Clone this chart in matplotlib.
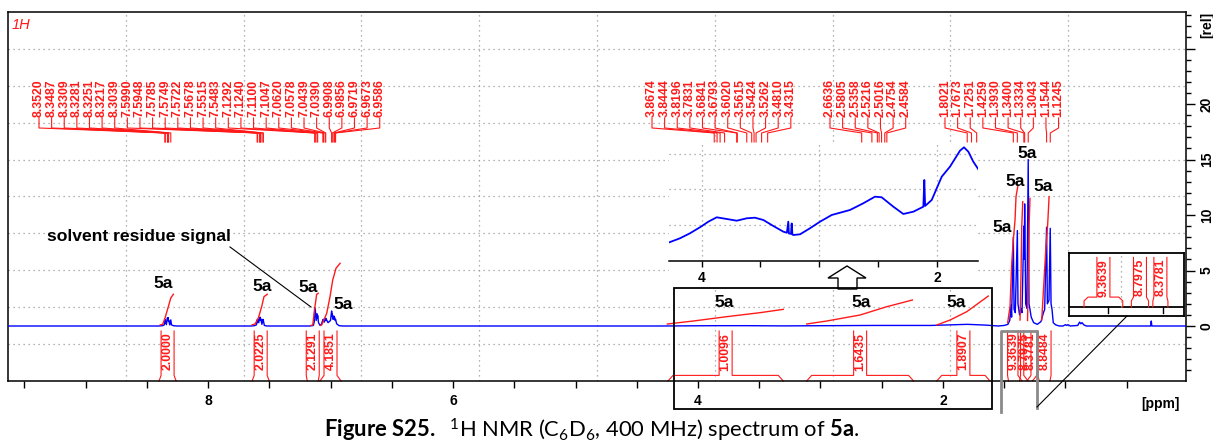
import numpy as np
import matplotlib
matplotlib.use("Agg")
import matplotlib.pyplot as plt
from matplotlib.patches import Rectangle, Polygon
from matplotlib.lines import Line2D
from matplotlib.ticker import MultipleLocator

plt.rcParams['font.family'] = ['Liberation Sans', 'DejaVu Sans']
plt.rcParams['mathtext.fontset'] = 'custom'
plt.rcParams['mathtext.rm'] = 'Lato'
plt.rcParams['mathtext.bf'] = 'Lato:bold'
plt.rcParams['mathtext.it'] = 'Lato:italic'

# ---------------- data ----------------
spec_ppm = [9.63, 8.40, 8.37, 8.357, 8.352, 8.350, 8.3487, 8.340, 8.3309, 8.3295, 8.3281, 8.3266,
            8.3251, 8.3235, 8.3217, 8.312, 8.3039, 8.298, 8.28, 8.25,
            7.65, 7.62, 7.605, 7.5990, 7.597, 7.5948, 7.586, 7.5785, 7.5767, 7.5749, 7.5735, 7.5722,
            7.570, 7.5678, 7.560, 7.5515, 7.550, 7.5483, 7.54, 7.52,
            7.17, 7.14, 7.132, 7.1292, 7.1266, 7.1240, 7.117, 7.1100, 7.107, 7.1047, 7.098, 7.085,
            7.075, 7.0620, 7.060, 7.0578, 7.050, 7.0439, 7.0415, 7.0390, 7.02, 7.00, 6.9908, 6.988,
            6.9856, 6.979, 6.9719, 6.9695, 6.9673, 6.962, 6.9586, 6.95, 6.93, 6.90,
            4.30, 3.85, 3.60, 3.30, 2.55, 2.10, 1.80, 1.65,
            1.55, 1.50, 1.47, 1.455, 1.445, 1.440, 1.4259, 1.420, 1.410, 1.3930, 1.388, 1.375, 1.365,
            1.355, 1.3400, 1.337, 1.3334, 1.325, 1.315, 1.3043, 1.298, 1.290, 1.280, 1.260, 1.230,
            1.200, 1.180, 1.170, 1.1544, 1.148, 1.135, 1.1245, 1.118, 1.110, 1.100, 1.080, 1.050,
            1.020, 1.000, 0.990, 0.980, 0.960, 0.900, 0.885, 0.875, 0.865, 0.850, 0.830,
            0.305, 0.300, 0.295, 0.016]
spec_int = [0, 0, 0.03, 0.1, 0.6, 0.25, 0.55, 0.12, 0.75, 0.5, 0.7, 0.5,
            0.75, 0.45, 0.55, 0.1, 0.55, 0.1, 0.02, 0,
            0, 0.03, 0.1, 0.55, 0.3, 0.6, 0.3, 0.75, 0.55, 0.8, 0.6, 0.75,
            0.5, 0.6, 0.15, 0.6, 0.35, 0.5, 0.05, 0,
            0, 0.05, 0.4, 1.65, 0.9, 1.45, 0.5, 1.1, 0.7, 0.95, 0.3, 0.05,
            0.15, 0.55, 0.4, 0.6, 0.35, 0.65, 0.5, 0.7, 0.3, 0.5, 1.35, 0.9,
            1.1, 0.6, 0.9, 0.65, 0.8, 0.5, 0.6, 0.2, 0.03, 0,
            0, 0.03, 0.03, 0.01, 0.05, 0.05, 0.15, 0.08,
            0, 0.05, 0.15, 0.5, 1.9, 0.8, 8.0, 1.5, 1.2, 8.6, 2.0, 1.0, 1.6,
            1.2, 9.0, 6.0, 11.0, 2.0, 1.6, 15.0, 2.0, 1.5, 0.8, 0.3, 0.15,
            0.4, 1.2, 1.5, 8.9, 2.0, 2.3, 8.8, 2.0, 1.5, 0.3, 0.1, 0,
            0, 0.12, 0.05, 0.12, 0, 0.05, 0.35, 0.2, 0.3, 0.1, 0,
            0, 0.45, 0, 0]

# expanded region (upper inset)
inset_ppm = [4.273, 4.183, 4.098, 4.013, 3.942, 3.871, 3.786, 3.701, 3.616, 3.546, 3.475, 3.390,
             3.305, 3.275, 3.263, 3.258, 3.240, 3.234, 3.228, 3.220, 3.163, 3.079, 2.994, 2.894,
             2.739, 2.626, 2.527, 2.470, 2.371, 2.286, 2.201, 2.116, 2.108, 2.101, 2.045, 1.960,
             1.890, 1.805, 1.771, 1.734, 1.692, 1.649]
inset_int = [0.523, 0.635, 0.775, 0.943, 1.099, 1.222, 1.175, 1.127, 1.194, 1.211, 1.147, 0.979,
             0.820, 0.790, 1.10, 0.770, 0.760, 1.05, 0.740, 0.727, 0.747, 0.915, 1.099, 1.287,
             1.427, 1.614, 1.799, 1.782, 1.519, 1.315, 1.379, 1.519, 2.266, 1.540, 1.706, 2.358,
             2.638, 3.085, 3.180, 3.057, 2.778, 2.565]

peaks_arom = [8.3520, 8.3487, 8.3309, 8.3281, 8.3251, 8.3217, 8.3039, 7.5990, 7.5948, 7.5785,
              7.5749, 7.5722, 7.5678, 7.5515, 7.5483, 7.1292, 7.1240, 7.1100, 7.1047, 7.0620,
              7.0578, 7.0439, 7.0390, 6.9908, 6.9856, 6.9719, 6.9673, 6.9586]
peaks_och = [3.8674, 3.8444, 3.8196, 3.7831, 3.6841, 3.6793, 3.6020, 3.5615, 3.5424, 3.5262,
             3.4810, 3.4315]
peaks_ch2 = [2.6636, 2.5805, 2.5358, 2.5216, 2.5016, 2.4754, 2.4584]
peaks_alk = [1.8021, 1.7673, 1.7251, 1.4259, 1.3930, 1.3400, 1.3334, 1.3043, 1.1544, 1.1245]

integral_labels = ["2.0000", "2.0225", "2.1291", "4.1851", "1.0096", "1.6435", "1.8907",
                   "9.3639", "8.7975", "8.3781", "8.8484"]
integral_start = [8.40, 7.64, 7.19, 7.086, 4.245, 3.113, 2.051, 1.465, 1.355, 1.305, 1.215]
integral_end = [8.26, 7.50, 7.10, 6.914, 3.304, 2.240, 1.616, 1.375, 1.315, 1.270, 1.127]

ic_2_0000_ppm = [8.39, 8.37, 8.351, 8.324, 8.304, 8.283]
ic_2_0000_val = [0.1, 0.15, 0.72, 1.74, 2.52, 2.86]
ic_2_0225_ppm = [7.64, 7.616, 7.589, 7.562, 7.543, 7.516]
ic_2_0225_val = [0.1, 0.18, 0.72, 1.74, 2.64, 2.86]
ic_2_1291_ppm = [7.16, 7.145, 7.127, 7.113, 7.10]
ic_2_1291_val = [0.05, 0.09, 1.74, 2.86, 2.95]
ic_4_1851_ppm = [7.08, 7.072, 7.031, 7.004, 6.982, 6.955, 6.922]
ic_4_1851_val = [0.05, 0.09, 1.14, 2.64, 4.14, 5.20, 5.65]
ic_1_0096_ppm = [4.25, 4.038, 3.766, 3.494, 3.304]
ic_1_0096_val = [0.18, 0.45, 0.84, 1.2, 1.5]
ic_1_6435_ppm = [3.113, 2.949, 2.677, 2.459, 2.25]
ic_1_6435_val = [0.18, 0.45, 0.99, 1.74, 2.34]
ic_1_8907_ppm = [2.051, 1.942, 1.806, 1.630]
ic_1_8907_val = [0.09, 0.54, 1.29, 2.70]
ic_9_3639_ppm = [1.472, 1.453, 1.439, 1.426, 1.412, 1.404, 1.390]
ic_9_3639_val = [0.3, 1.74, 5.65, 7.75, 9.55, 11.65, 12.55]
ic_8_7975_ppm = [1.371, 1.363, 1.357, 1.349]
ic_8_7975_val = [0.54, 4.8, 8.95, 11.2]
ic_8_3781_ppm = [1.31, 1.303, 1.297, 1.29]
ic_8_3781_val = [0.5, 4.5, 9.0, 11.5]
ic_8_8484_ppm = [1.194, 1.172, 1.161, 1.145, 1.134]
ic_8_8484_val = [0.54, 4.75, 6.85, 9.25, 11.65]

# compound labels (ppm, rel)
label_5a_ppm = [8.367, 7.56, 7.186, 6.90, 1.52, 1.41, 1.317, 1.18, 3.79, 2.67, 1.89]
label_5a_rel = [3.87, 3.6, 3.49, 1.9, 8.9, 13.0, 15.5, 12.55, 2.1, 2.16, 2.16]

x_tick_vals = list(np.arange(0.5, 9.51, 0.5))
y_tick_vals = [0, 5, 10, 15, 20, 25]
y_tick_labels = ['0', '5', '10', '15', '20', '']

# ---------------- layout ----------------
W, H = 1213, 444
XL, XR = 9.6327, 0.0163
YB, YT = -4.955, 28.29
RED = '#ff1a1a'
BLUE = '#0000ff'
GRID = '#9a9a9a'

fig = plt.figure(figsize=(W / 100, H / 100), dpi=100)
ax = fig.add_axes([8 / W, 1 - 381 / H, 1178 / W, 369 / H])
ax.set_xlim(XL, XR)
ax.set_ylim(YB, YT)


def px2ppm(px):
    return XL + (px - 8) * (XR - XL) / 1178.0


def fx(x):
    return x / W


def fy(y):
    return 1 - y / H


# grid in 10 divisions
for i in range(1, 10):
    ax.plot([i / 10] * 2, [0, 1], transform=ax.transAxes, color=GRID, lw=0.9,
            ls=(0, (1, 3)), zorder=0)
    ax.plot([0, 1], [i / 10] * 2, transform=ax.transAxes, color=GRID, lw=0.9,
            ls=(0, (1, 3)), zorder=0)

ax.plot(spec_ppm, spec_int, color=BLUE, lw=1.0, zorder=3)

# integral curves
for xs, ys in [(ic_2_0000_ppm, ic_2_0000_val), (ic_2_0225_ppm, ic_2_0225_val),
               (ic_2_1291_ppm, ic_2_1291_val), (ic_4_1851_ppm, ic_4_1851_val),
               (ic_1_0096_ppm, ic_1_0096_val), (ic_1_6435_ppm, ic_1_6435_val),
               (ic_1_8907_ppm, ic_1_8907_val), (ic_9_3639_ppm, ic_9_3639_val),
               (ic_8_7975_ppm, ic_8_7975_val), (ic_8_3781_ppm, ic_8_3781_val),
               (ic_8_8484_ppm, ic_8_8484_val)]:
    ax.plot(xs, ys, color=RED, lw=1.0, zorder=4)


def bracket(axis, start, end, half_w, slant, y_base, y_foot, y_knee, y_top, lw=0.8):
    c = (start + end) / 2
    kl = max(start - slant, c + half_w)
    kr = min(end + slant, c - half_w)
    axis.plot([start, start, kl, c + half_w, c + half_w],
              [y_base, y_foot, y_knee, y_knee, y_top], color=RED, lw=lw, clip_on=False)
    axis.plot([end, end, kr, c - half_w, c - half_w],
              [y_base, y_foot, y_knee, y_knee, y_top], color=RED, lw=lw, clip_on=False)
    return c


hw = 6.5 / 122.5
sl = 5 / 122.5
for lab, s, e in zip(integral_labels, integral_start, integral_end):
    c = bracket(ax, s, e, hw, sl, YB, YB, -4.45, -0.45)
    ax.text(c, -0.6, lab, rotation=90, ha='center', va='top', color=RED,
            fontsize=8.8, fontweight='bold', zorder=5)

# peak labels with leaders
group_start_px = [39, 652, 830, 945]
spacing_px = 12.62
for start_px, peaks in zip(group_start_px, [peaks_arom, peaks_och, peaks_ch2, peaks_alk]):
    for i, p in enumerate(peaks):
        lx = px2ppm(start_px + i * spacing_px)
        ax.text(lx, 18.83, f"{p:.4f}", rotation=90, ha='center', va='bottom', color=RED,
                fontsize=8.8, fontweight='bold')
        ax.plot([lx, lx, p, p], [18.74, 17.84, 17.39, 16.58], color=RED, lw=0.8)

for xp, yr in zip(label_5a_ppm, label_5a_rel):
    ax.text(xp, yr, "5a", ha='center', va='center', fontsize=12.5, fontweight='bold',
            color='black', zorder=6)

# solvent annotation
ax.text(px2ppm(231), 8.1, "solvent residue signal", ha='right', va='center', fontsize=12.6,
        fontweight='bold')
ax.plot([px2ppm(230), 7.159], [7.12, 1.71], color='black', lw=0.8)

ax.text(px2ppm(12), 27.1, "1H", color=RED, fontsize=10.5, fontstyle='italic', ha='left',
        va='center')

# axes ticks
x_tick_labels = [str(int(round(v))) if abs(v - round(v)) < 1e-6 and int(round(v)) % 2 == 0 else ''
                 for v in x_tick_vals]
ax.set_xticks(x_tick_vals, labels=x_tick_labels, fontweight='bold', fontsize=10)
ax.tick_params(axis='x', direction='out', length=5, width=1, pad=4)
ax.yaxis.tick_right()
ax.set_yticks(y_tick_vals, labels=y_tick_labels, rotation=90, va='center',
              fontweight='bold', fontsize=10)
ax.yaxis.set_minor_locator(MultipleLocator(1))
ax.tick_params(axis='y', which='major', direction='out', length=6.5, width=1, pad=3.5,
               right=True, left=False)
ax.tick_params(axis='y', which='minor', direction='out', length=3.5, width=1,
               right=True, left=False)
for sp in ax.spines.values():
    sp.set_linewidth(1.1)

fig.text(fx(1160), fy(404), "[ppm]", ha='center', va='center', fontsize=10, fontweight='bold')
fig.text(fx(1207), fy(25), "[rel]", ha='center', va='center', fontsize=10, fontweight='bold',
         rotation=90)

# ---------- upper inset (expansion) ----------
fig.add_artist(Rectangle((fx(669), fy(288)), fx(309), 145 / H, transform=fig.transFigure,
                         facecolor='white', edgecolor='none', zorder=2))
ins = fig.add_axes([669 / W, 1 - 261 / H, 309 / W, 118 / H], zorder=3)
ins.patch.set_alpha(0)
ins.set_xlim(4.276, 1.652)
ins.set_ylim(0, 3.3)
for v in [4, 3, 2]:
    ins.axvline(v, color=GRID, lw=0.9, ls=(0, (1, 3)), zorder=0)
for v in [1, 2, 3]:
    ins.axhline(v, color=GRID, lw=0.9, ls=(0, (1, 3)), zorder=0)
ins.plot(inset_ppm, inset_int, color=BLUE, lw=1.3)
for k in ['top', 'left', 'right']:
    ins.spines[k].set_visible(False)
ins.spines['bottom'].set_linewidth(1.1)
ins.set_yticks([])
ins.set_xticks([4, 3.5, 3, 2.5, 2], labels=['4', '', '', '', '2'], fontweight='bold',
               fontsize=10)
ins.tick_params(axis='x', direction='out', length=4.5, width=1, pad=3)

# hollow arrow
arrow_px = [(847, 266), (866, 278), (857, 278), (857, 289), (838, 289), (838, 278), (828, 278)]
fig.add_artist(Polygon([(fx(a), fy(b)) for a, b in arrow_px], closed=True,
                       transform=fig.transFigure, facecolor='white', edgecolor='black',
                       lw=1.0, zorder=4))

# lower black box
fig.add_artist(Rectangle((fx(674), fy(409)), 318 / W, 121 / H, transform=fig.transFigure,
                         facecolor='none', edgecolor='black', lw=1.3, zorder=4))

# grey box around crowded integrals + connector
fig.add_artist(Line2D([fx(1001), fx(1001), fx(1037), fx(1037)],
                      [fy(412), fy(331), fy(331), fy(408)], transform=fig.transFigure,
                      color='#8a8a8a', lw=2.0, zorder=4))
fig.add_artist(Line2D([fx(1037), fx(1127)], [fy(407), fy(316)], transform=fig.transFigure,
                      color='black', lw=0.8, zorder=4))

# ---------- small inset with integral labels ----------
sm = fig.add_axes([1069 / W, 1 - 316 / H, 115 / W, 63 / H], zorder=3)
sm.set_facecolor('white')
sm.set_xlim(1.50, 1.2326)
sm.set_ylim(0, 1)
sm.set_xticks([])
sm.set_yticks([])
for sp in sm.spines.values():
    sp.set_linewidth(1.3)
sm.axhline(0.143, color='black', lw=1.3)
sm.plot([1.38, 1.38], [0.143, 1.0], color=GRID, lw=0.9, ls=(0, (1, 3)))
for t in [1.409, 1.281]:
    sm.plot([t, t], [0.143, 0.045], color='black', lw=1.0)
hw_s = 6.5 / 430
sl_s = 4 / 430
for lab, s, e in zip(integral_labels[7:10], integral_start[7:10], integral_end[7:10]):
    c = bracket(sm, s, e, hw_s, sl_s, 0.143, 0.24, 0.30, 0.93)
    sm.text(c, 0.905, lab, rotation=90, ha='center', va='top', color=RED,
            fontsize=8.8, fontweight='bold')

# caption
fig.text(fx(592), fy(430),
         r"$\bf{Figure\ S25.}$  $^{1}$H NMR (C$_{6}$D$_{6}$, 400 MHz) spectrum of $\bf{5a}$.",
         ha='center', va='center', fontsize=15.8, family='Lato')

fig.savefig("out.png", dpi=100)
